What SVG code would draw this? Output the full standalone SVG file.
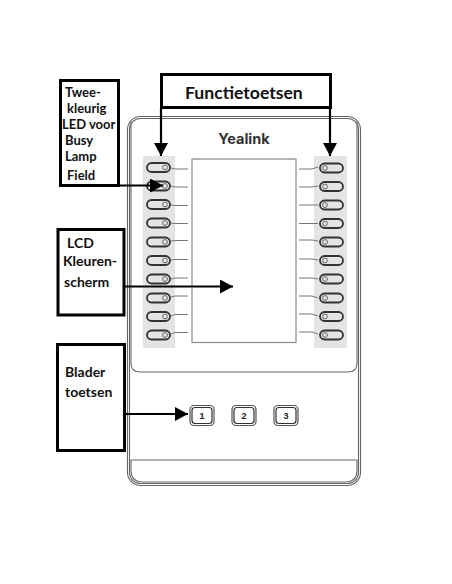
<svg xmlns="http://www.w3.org/2000/svg" width="452" height="584" viewBox="0 0 452 584">
<defs>
<style>
.body{fill:none;stroke:#666;stroke-width:1.1}
.panel{fill:#e4e4e4}
.key{fill:none;stroke:#333;stroke-width:1.8}
.led{fill:none;stroke:#666;stroke-width:1}
.lead{fill:none;stroke:#777;stroke-width:1}
.box{fill:#fff;stroke:#000;stroke-width:3}
.btn{fill:#fff;stroke:#555;stroke-width:1.2}
.btn2{fill:none;stroke:#333;stroke-width:1.2}
.t{font-family:Lato,"Open Sans",sans-serif;font-weight:700;font-size:14px;fill:#111}
.s{font-size:13px}
.n{font-family:"Liberation Sans",sans-serif;font-weight:700;font-size:9px;fill:#222;text-anchor:middle}
.conn{fill:none;stroke:#000;stroke-width:2.2}
</style>
<marker id="arrow" markerUnits="userSpaceOnUse" markerWidth="14" markerHeight="14" refX="13" refY="7" orient="auto"><path d="M0 0L13 7L0 14Z" fill="#000"/></marker>
<g id="k"><rect class="key" x="0" y="-4.5" width="23" height="9" rx="4.5"/><circle class="led" cx="18" cy="0" r="2.4"/></g>
<g id="k2"><rect class="key" x="0" y="-4.5" width="23" height="9" rx="4.5"/><circle class="led" cx="5" cy="0" r="2.4"/></g>
</defs>
<rect width="452" height="584" fill="#fff"/>
<g id="device">
<rect class="body" x="127.500" y="116.500" width="233" height="369" rx="13"/>
<rect class="body" x="129.500" y="118.500" width="229" height="365" rx="11"/>
<path class="body" d="M131 122V363Q131 372 140 372H348Q357 372 357 363V122"/>
<path class="body" d="M131 460H357V470Q357 482 345 482H143Q131 482 131 470Z"/>
<text x="244" y="143.500" font-family="Inter,'Liberation Sans',sans-serif" font-weight="700" font-size="14.500" fill="#333" text-anchor="middle">Yealink</text>
</g>
<g id="left-keys">
<rect class="panel" x="143" y="156" width="32" height="192"/>
<use href="#k" x="147" y="167.500"/><use href="#k" x="147" y="186"/><use href="#k" x="147" y="204.500"/><use href="#k" x="147" y="223"/><use href="#k" x="147" y="242"/><use href="#k" x="147" y="260.500"/><use href="#k" x="147" y="279"/><use href="#k" x="147" y="298"/><use href="#k" x="147" y="316.500"/><use href="#k" x="147" y="335"/>
<path class="lead" d="M171 168L175 169H188M171 186L175 187H188M171 205L175 205.500H188M171 223L175 223.500H188M171 241L175 240.500H188M171 260L175 259.500H188M171 279L175 278H188M171 297L175 296H188M171 316L175 314.500H188M171 334L175 332.500H188"/>
</g>
<g id="right-keys">
<rect class="panel" x="314" y="156" width="33" height="192"/>
<use href="#k2" x="320" y="168"/><use href="#k2" x="320" y="186.500"/><use href="#k2" x="320" y="205"/><use href="#k2" x="320" y="223.500"/><use href="#k2" x="320" y="242"/><use href="#k2" x="320" y="260.500"/><use href="#k2" x="320" y="279"/><use href="#k2" x="320" y="298"/><use href="#k2" x="320" y="316.500"/><use href="#k2" x="320" y="335"/>
<path class="lead" d="M299 169H312L318 167M299 187H312L318 186M299 205H312L318 205M299 223.500H312L318 223.500M299 240H312L318 241M299 259H312L318 260M299 296H312L318 298M299 278H312L318 279M299 314H312L318 316M299 332H312L318 334"/>
</g>
<g id="lcd"><rect x="192" y="159" width="104" height="183.500" fill="#fff" stroke="#888" stroke-width="1.2"/></g>
<g id="buttons">
<g id="btn-1"><rect class="btn" x="190" y="405.500" width="24" height="20" rx="4"/><rect class="btn2" x="192" y="407.500" width="20" height="16" rx="3"/><text class="n" x="202" y="419">1</text></g>
<g id="btn-2"><rect class="btn" x="232" y="405.500" width="24" height="20" rx="4"/><rect class="btn2" x="234" y="407.500" width="20" height="16" rx="3"/><text class="n" x="244" y="419">2</text></g>
<g id="btn-3"><rect class="btn" x="274" y="405.500" width="24" height="20" rx="4"/><rect class="btn2" x="276" y="407.500" width="20" height="16" rx="3"/><text class="n" x="286" y="419">3</text></g>
</g>
<g id="node-functietoetsen"><rect class="box" x="161.500" y="74.500" width="169" height="33"/><text x="185" y="98.500" font-family="Lato,'Open Sans',sans-serif" font-weight="700" font-size="17.600px" fill="#111">Functietoetsen</text></g>
<g id="node-led"><rect class="box" x="60.500" y="80.500" width="58" height="105"/>
<text class="t s" x="65" y="96.500">Twee-</text><text class="t s" x="67" y="113">kleurig</text><text class="t s" x="62" y="129.400">LED voor</text><text class="t s" x="65" y="145.200">Busy</text><text class="t s" x="65" y="161">Lamp</text><text class="t s" x="67" y="180">Field</text></g>
<g id="node-lcd"><rect class="box" x="58" y="229.500" width="66" height="85.500"/>
<text class="t" x="67" y="248">LCD</text><text class="t" x="63" y="266">Kleuren-</text><text class="t" x="64" y="287">scherm</text></g>
<g id="node-blader"><rect class="box" x="57.500" y="344.500" width="67" height="106"/>
<text class="t" x="65" y="377">Blader</text><text class="t" x="65" y="397">toetsen</text></g>
<g id="connectors">
<path class="conn" d="M161 108V156" marker-end="url(#arrow)"/>
<path class="conn" d="M330 108V156" marker-end="url(#arrow)"/>
<path class="conn" d="M119 185.500H163" marker-end="url(#arrow)"/>
<path class="conn" d="M124 286.500H233" marker-end="url(#arrow)"/>
<path class="conn" d="M125 414H188" marker-end="url(#arrow)"/>
</g>
</svg>
